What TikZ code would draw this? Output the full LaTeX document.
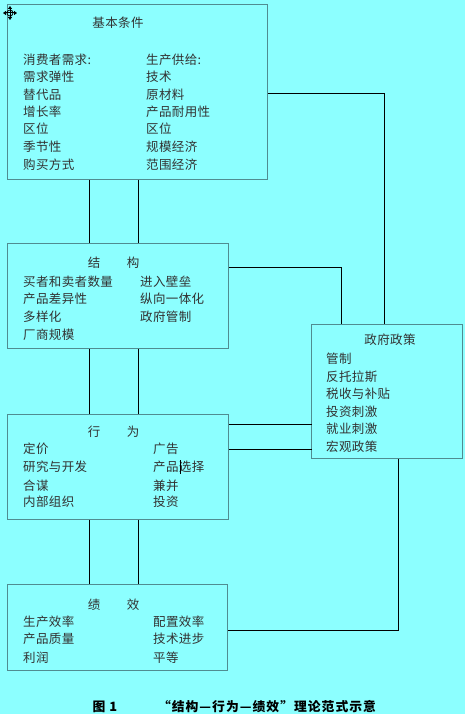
\documentclass[tikz,border=0pt]{standalone}
\usepackage{fontspec}
\setmainfont{Noto Sans CJK SC}
\usetikzlibrary{calc,arrows.meta}
\definecolor{bg}{RGB}{140,255,255}
\definecolor{boxline}{RGB}{80,140,145}
\definecolor{txt}{RGB}{50,50,50}
\tikzset{
  box/.style={draw=boxline, line width=0.9pt, fill=bg, anchor=north west, inner sep=0pt},
  conn/.style={draw=black, line width=0.9pt},
  lbl/.style={anchor=west, inner sep=0pt, text=txt, font=\fontsize{12.5}{14}\selectfont\addfontfeatures{LetterSpace=3}},
  ttl/.style={anchor=center, inner sep=0pt, text=txt, font=\fontsize{12.5}{14}\selectfont\addfontfeatures{LetterSpace=3}},
  captext/.style={anchor=center, inner sep=0pt, text=black, font=\fontsize{12.8}{14}\selectfont\bfseries\addfontfeatures{LetterSpace=8}},
}
\begin{document}
\begin{tikzpicture}[x=1pt,y=-1pt]
\fill[bg] (0,0) rectangle (465,714);
\useasboundingbox (0,0) rectangle (465,714);

% boxes
\node[box, minimum width=260pt, minimum height=175pt] (cond) at (7,4) {};
\node[box, minimum width=221pt, minimum height=105pt] (struct) at (7,243) {};
\node[box, minimum width=151pt, minimum height=134pt] (gov) at (311,324) {};
\node[box, minimum width=221pt, minimum height=105pt] (beh) at (7,414) {};
\node[box, minimum width=220pt, minimum height=86pt] (perf) at (7,584) {};

% connectors
\draw[conn] ($(cond.south west)+(82,0)$) -- ($(struct.north west)+(82,0)$);
\draw[conn] ($(cond.south west)+(131,0)$) -- ($(struct.north west)+(131,0)$);
\draw[conn] ($(struct.south west)+(82,0)$) -- ($(beh.north west)+(82,0)$);
\draw[conn] ($(struct.south west)+(131,0)$) -- ($(beh.north west)+(131,0)$);
\draw[conn] ($(beh.south west)+(82,0)$) -- ($(perf.north west)+(82,0)$);
\draw[conn] ($(beh.south west)+(131,0)$) -- ($(perf.north west)+(131,0)$);
\draw[conn] ($(cond.north east)+(0,89)$) -| ($(gov.north west)+(73,0)$);
\draw[conn] ($(struct.north east)+(0,24)$) -| ($(gov.north west)+(30,0)$);
\draw[conn] ($(beh.north east)+(0,10)$) -- ($(beh.north east)+(83,10)$);
\draw[conn] ($(beh.north east)+(0,35)$) -- ($(beh.north east)+(83,35)$);
\draw[conn] ($(gov.south west)+(87,0)$) |- ($(perf.north east)+(0,46)$);

% move handle icon
\node[inner sep=0pt] (handle) at (10,13) {};
\draw[line width=1pt, -{Triangle[length=3pt,width=4pt]}] (handle.center) -- ++(0,-7);
\draw[line width=1pt, -{Triangle[length=3pt,width=4pt]}] (handle.center) -- ++(0,7);
\draw[line width=1pt, -{Triangle[length=3pt,width=4pt]}] (handle.center) -- ++(-7,0);
\draw[line width=1pt, -{Triangle[length=3pt,width=4pt]}] (handle.center) -- ++(7,0);
\draw[line width=0.8pt] (handle.center) circle (3pt);

% texts: basic conditions
\node[ttl] (t1) at (118,23) {基本条件};
\node[lbl] (a1) at (23,60) {消费者需求:};
\node[lbl] (a2) at (23,77) {需求弹性};
\node[lbl] (a3) at (23,95) {替代品};
\node[lbl] (a4) at (23,112) {增长率};
\node[lbl] (a5) at (23,129) {区位};
\node[lbl] (a6) at (23,147) {季节性};
\node[lbl] (a7) at (23,165) {购买方式};
\node[lbl] (b1) at (146,60) {生产供给:};
\node[lbl] (b2) at (146,77) {技术};
\node[lbl] (b3) at (146,95) {原材料};
\node[lbl] (b4) at (146,112) {产品耐用性};
\node[lbl] (b5) at (146,129) {区位};
\node[lbl] (b6) at (146,147) {规模经济};
\node[lbl] (b7) at (146,165) {范围经济};

% structure
\node[ttl] (t2a) at (94,263) {结};
\node[ttl] (t2b) at (133,263) {构};
\node[lbl] (c1) at (23,282) {买者和卖者数量};
\node[lbl] (c2) at (23,299) {产品差异性};
\node[lbl] (c3) at (23,317) {多样化};
\node[lbl] (c4) at (23,335) {厂商规模};
\node[lbl] (d1) at (140,282) {进入壁垒};
\node[lbl] (d2) at (140,299) {纵向一体化};
\node[lbl] (d3) at (140,317) {政府管制};

% government policy
\node[ttl] (t5) at (390,340) {政府政策};
\node[lbl] (g1) at (326,359) {管制};
\node[lbl] (g2) at (326,377) {反托拉斯};
\node[lbl] (g3) at (326,394) {税收与补贴};
\node[lbl] (g4) at (326,412) {投资刺激};
\node[lbl] (g5) at (326,429) {就业刺激};
\node[lbl] (g6) at (326,447) {宏观政策};

% conduct
\node[ttl] (t3a) at (94,432) {行};
\node[ttl] (t3b) at (133,432) {为};
\node[lbl] (e1) at (23,449) {定价};
\node[lbl] (e2) at (23,467) {研究与开发};
\node[lbl] (e3) at (23,486) {合谋};
\node[lbl] (e4) at (23,502) {内部组织};
\node[lbl] (f1) at (153,449) {广告};
\node[lbl] (f2) at (153,467) {产品选择};
\node[lbl] (f3) at (153,486) {兼并};
\node[lbl] (f4) at (153,502) {投资};
\draw[line width=0.7pt] (f2.west) ++(27,-7) -- ++(0,14);

% performance
\node[ttl] (t4a) at (94,605) {绩};
\node[ttl] (t4b) at (133,605) {效};
\node[lbl] (h1) at (23,622) {生产效率};
\node[lbl] (h2) at (23,639) {产品质量};
\node[lbl] (h3) at (23,658) {利润};
\node[lbl] (i1) at (153,622) {配置效率};
\node[lbl] (i2) at (153,639) {技术进步};
\node[lbl] (i3) at (153,658) {平等};

% caption
\node[captext] (cap1) at (105,707) {图 1};
\node[captext] (cap2) at (267,707) {“结构—行为—绩效”理论范式示意};
\end{tikzpicture}
\end{document}
